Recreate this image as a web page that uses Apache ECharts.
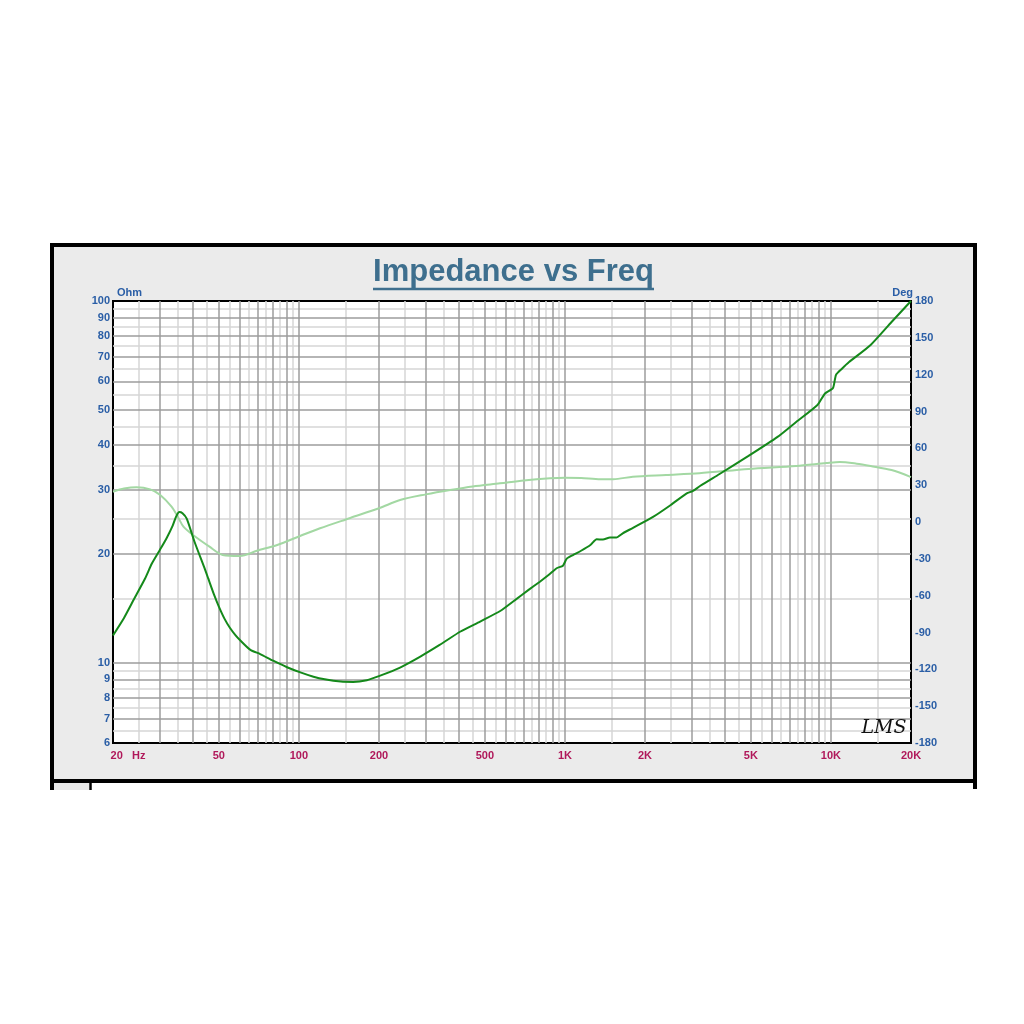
<!DOCTYPE html>
<html>
<head>
<meta charset="utf-8">
<script src="https://cdn.jsdelivr.net/npm/echarts@6/dist/echarts.min.js"></script>
<style>html,body{margin:0;padding:0;background:#fff}#c{width:1024px;height:1024px}</style>
</head>
<body>
<div id="c"></div>
<script>
// ---------- data ----------
var impFreq = [20, 22, 24, 26.4, 28, 30, 31.8, 33.5, 34.5, 35.5, 36.5, 37.9, 40.5, 44, 45.6, 48, 50, 52.6, 55, 57.6, 60, 65.7, 71.5, 80, 90.2, 101.9, 113.4, 125, 143.6, 160, 180, 201, 240, 286, 338, 405, 480, 571, 649, 730, 805, 870, 931, 983, 1016, 1072, 1150, 1250, 1316, 1390, 1477, 1560, 1650, 1803, 2144, 2500, 2870, 3020, 3220, 3800, 4900, 6300, 7400, 8900, 9500, 10180, 10450, 11000, 11700, 14100, 16900, 20000];
var impOhm = [11.9, 13.3, 15.0, 17.1, 18.8, 20.5, 22.1, 23.9, 25.3, 26.1, 25.9, 25.0, 21.6, 18.4, 17.1, 15.4, 14.3, 13.2, 12.5, 11.95, 11.56, 10.85, 10.57, 10.13, 9.72, 9.39, 9.15, 9.0, 8.87, 8.85, 8.95, 9.2, 9.7, 10.4, 11.2, 12.2, 13.0, 13.9, 14.9, 15.9, 16.75, 17.5, 18.25, 18.55, 19.4, 19.85, 20.4, 21.2, 21.95, 21.9, 22.2, 22.2, 22.8, 23.6, 25.3, 27.3, 29.4, 29.8, 30.8, 33.2, 37.3, 42.1, 46.3, 51.6, 55.5, 57.5, 62.5, 65.0, 67.8, 75.6, 87.5, 100];
var phFreq = [20, 22, 24.5, 27.6, 30.1, 33.2, 35, 36.8, 40, 46.1, 51.7, 60, 69.5, 82.9, 101, 120, 156, 201, 240, 300, 370, 450, 570, 700, 879, 1000, 1150, 1360, 1520, 1800, 2400, 3200, 4900, 7400, 9600, 10800, 12500, 14100, 16900, 20000];
var phDeg = [24.7, 27.2, 28.3, 26.6, 22.0, 12.5, 4.5, -3.8, -10.6, -20.1, -26.9, -27.7, -23.4, -18.7, -11.4, -5.1, 3.3, 11.4, 17.9, 22.5, 26.1, 29.0, 31.5, 33.8, 35.6, 36.1, 35.8, 34.8, 34.8, 36.9, 38.3, 39.7, 43.2, 45.6, 48.0, 48.9, 47.5, 45.6, 42.3, 36.6];
var freqTicks = [20, 50, 100, 200, 500, 1000, 2000, 5000, 10000, 20000];
var ohmTicks = [6, 7, 8, 9, 10, 20, 30, 40, 50, 60, 70, 80, 90, 100];
var degTicks = [-180, -150, -120, -90, -60, -30, 0, 30, 60, 90, 120, 150, 180];

// ---------- grid line positions ----------
var xMajor = [], xMinor = [];
[10, 100, 1000, 10000].forEach(function (d) {
  for (var k = 1; k <= 9; k++) {
    var v = k * d;
    if (v > 20 && v < 20000) xMajor.push(v);
    var h = (k + 0.5) * d;
    if (h > 20 && h < 20000) xMinor.push(h);
  }
});
xMinor = xMinor.filter(function (v) { return v < 10000 || v === 15000; });
var yMajor = [7, 8, 9, 10, 20, 30, 40, 50, 60, 70, 80, 90];
var yMinor = [6.5, 7.5, 8.5, 9.5, 15, 25, 35, 45, 55, 65, 75, 85, 95];

var LIGHT = '#d6d6d6', DARK = '#9c9c9c';
var gridLines = [];
function gl(key, v, c) { var o = { lineStyle: { color: c, width: 1.5, type: 'solid' } }; o[key] = v; gridLines.push(o); }
xMinor.forEach(function (v) { gl('xAxis', v, LIGHT); });
yMinor.forEach(function (v) { gl('yAxis', v, LIGHT); });
xMajor.forEach(function (v) { gl('xAxis', v, DARK); });
yMajor.forEach(function (v) { gl('yAxis', v, DARK); });

function zip(a, b) { return a.map(function (x, i) { return [x, b[i]]; }); }

var BLUE = '#2a5ea6', RED = '#b0185a', FONT = '"Liberation Sans", Arial, sans-serif';

var chart = echarts.init(document.getElementById('c'), null, { renderer: 'canvas' });
chart.setOption({
  animation: false,
  backgroundColor: '#ffffff',
  grid: {
    left: 113, right: 113, top: 301, bottom: 281,
    show: true, backgroundColor: '#ffffff', borderColor: '#000', borderWidth: 2, z: 1
  },
  xAxis: {
    type: 'log', logBase: 10, min: 20, max: 20000,
    axisLine: { show: false }, axisTick: { show: false }, splitLine: { show: false },
    axisLabel: {
      customValues: freqTicks,
      margin: 7, color: RED, fontWeight: 'bold', fontSize: 11, fontFamily: FONT,
      formatter: function (v) {
        v = Math.round(v);
        if (v === 20) return '{hz|20   Hz}';
        return v >= 1000 ? (v / 1000) + 'K' : String(v);
      },
      rich: { hz: { padding: [0, 0, 0, 30], color: RED, fontWeight: 'bold', fontSize: 11, fontFamily: FONT } }
    }
  },
  yAxis: [{
    type: 'log', logBase: 10, min: 6, max: 100, position: 'left',
    axisLine: { show: false }, axisTick: { show: false }, splitLine: { show: false },
    axisLabel: {
      customValues: ohmTicks, margin: 3, color: BLUE, fontWeight: 'bold', fontSize: 11, fontFamily: FONT,
      formatter: function (v) { return String(Math.round(v)); }
    }
  }, {
    type: 'value', min: -180, max: 180, interval: 30, position: 'right',
    axisLine: { show: false }, axisTick: { show: false }, splitLine: { show: false },
    axisLabel: { customValues: degTicks, margin: 4, color: BLUE, fontWeight: 'bold', fontSize: 11, fontFamily: FONT }
  }],
  graphic: [
    { type: 'rect', z: -10, shape: { x: 52, y: 245, width: 923, height: 536 },
      style: { fill: '#ebebeb', stroke: '#000', lineWidth: 4 } },
    { type: 'rect', z: -10, shape: { x: 54, y: 783, width: 35, height: 7 }, style: { fill: '#e8e8e8' } },
    { type: 'line', z: -9, shape: { x1: 52, y1: 781, x2: 52, y2: 790 }, style: { stroke: '#000', lineWidth: 4 } },
    { type: 'line', z: -9, shape: { x1: 975, y1: 781, x2: 975, y2: 789 }, style: { stroke: '#000', lineWidth: 4 } },
    { type: 'line', z: -9, shape: { x1: 90.5, y1: 781, x2: 90.5, y2: 790 }, style: { stroke: '#000', lineWidth: 2.5 } },
    { type: 'text', z: 50, x: 513.5, y: 272,
      style: { text: 'Impedance vs Freq', fill: '#3e6f8e', font: 'bold 31px ' + FONT, align: 'center', verticalAlign: 'middle' } },
    { type: 'line', z: 50, shape: { x1: 373, y1: 289, x2: 654, y2: 289 }, style: { stroke: '#3e6f8e', lineWidth: 2.5 } },
    { type: 'text', z: 50, x: 117, y: 293,
      style: { text: 'Ohm', fill: BLUE, font: 'bold 11px ' + FONT, align: 'left', verticalAlign: 'middle' } },
    { type: 'text', z: 50, x: 913, y: 293,
      style: { text: 'Deg', fill: BLUE, font: 'bold 11px ' + FONT, align: 'right', verticalAlign: 'middle' } },
    { type: 'text', z: 50, x: 884, y: 728,
      style: { text: 'LMS', fill: '#111', font: 'italic 19px "DejaVu Serif", serif', align: 'center', verticalAlign: 'middle' } }
  ],
  series: [{
    type: 'line', xAxisIndex: 0, yAxisIndex: 0, z: 2,
    data: [[1000, 50]], symbol: 'none', lineStyle: { opacity: 0 }, silent: true,
    markLine: { z: 2, silent: true, symbol: 'none', label: { show: false }, animation: false, data: gridLines }
  }, {
    name: 'Phase', type: 'line', xAxisIndex: 0, yAxisIndex: 1, z: 10,
    data: zip(phFreq, phDeg), symbol: 'none', smooth: 0.3,
    lineStyle: { color: '#a3d8a3', width: 2 }
  }, {
    name: 'Impedance', type: 'line', xAxisIndex: 0, yAxisIndex: 0, z: 11,
    data: zip(impFreq, impOhm), symbol: 'none', smooth: 0.2,
    lineStyle: { color: '#14891a', width: 2 }
  }]
});
</script>
</body>
</html>
